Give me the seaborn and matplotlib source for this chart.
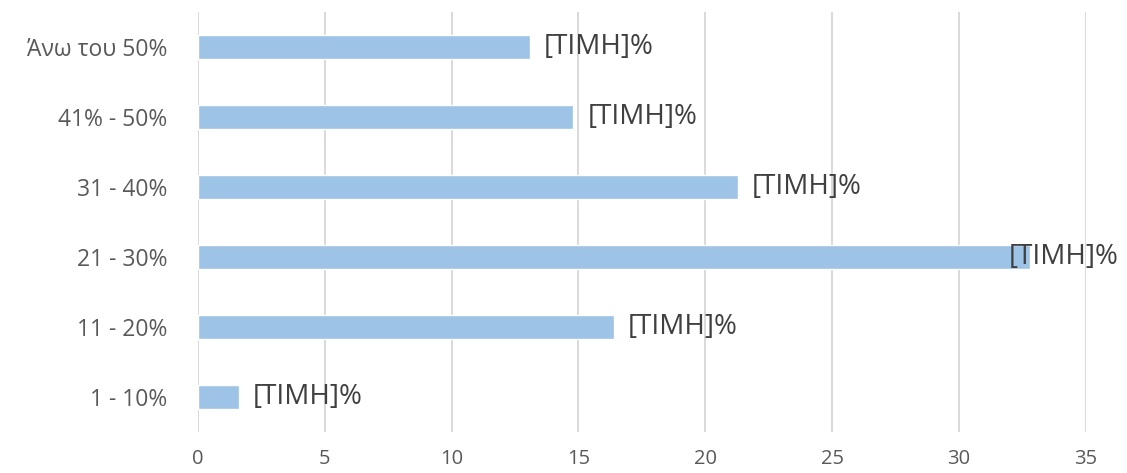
import matplotlib
matplotlib.use("Agg")
import matplotlib.pyplot as plt
import seaborn as sns
import pandas as pd

categories = ["Άνω του 50%", "41% - 50%", "31 - 40%", "21 - 30%", "11 - 20%", "1 - 10%"]
values = [13.1, 14.8, 21.3, 32.8, 16.4, 1.6]
label_text = "[ΤΙΜΗ]%"
x_ticks = [0, 5, 10, 15, 20, 25, 30, 35]

sns.set_theme(style="white")
plt.rcParams['font.family'] = ['Open Sans', 'DejaVu Sans']

df = pd.DataFrame({"cat": categories, "val": values})

fig = plt.figure(figsize=(11.27, 4.73), dpi=100)
ax = fig.add_axes([0.1757, 0.0867, 0.9634 - 0.1757, 0.9746 - 0.0867])

sns.barplot(data=df, y="cat", x="val", orient="h", color="#9DC3E6",
            width=0.34, saturation=1, ax=ax, zorder=3)

ax.set_xlim(0, 35)
ax.set_xticks(x_ticks)
ax.set_xticklabels([str(t) for t in x_ticks])
ax.set_xlabel("")
ax.set_ylabel("")
ax.grid(axis="x", color="#D9D9D9", linewidth=1.4, zorder=0)
ax.grid(axis="y", visible=False)
for s in ax.spines.values():
    s.set_visible(False)
ax.tick_params(axis="x", length=0, pad=12, labelsize=14.5, labelcolor="#595959")
ax.tick_params(axis="y", length=0, pad=22, labelsize=16.5, labelcolor="#595959")

texts = []
for i, v in enumerate(values):
    t = ax.annotate(label_text, xy=(v, i), xytext=(10, 0), textcoords="offset points",
                    va="center", ha="left", fontsize=20, color="#404040", zorder=4)
    texts.append(t)

fig.canvas.draw()
renderer = fig.canvas.get_renderer()
fig_w = fig.bbox.width
for t in texts:
    bb = t.get_window_extent(renderer)
    if bb.x1 > fig_w - 8:
        shift = bb.x1 - (fig_w - 8)
        t.set_position((10 - shift * 72 / fig.dpi, 0))

fig.savefig("out.png", dpi=100)
